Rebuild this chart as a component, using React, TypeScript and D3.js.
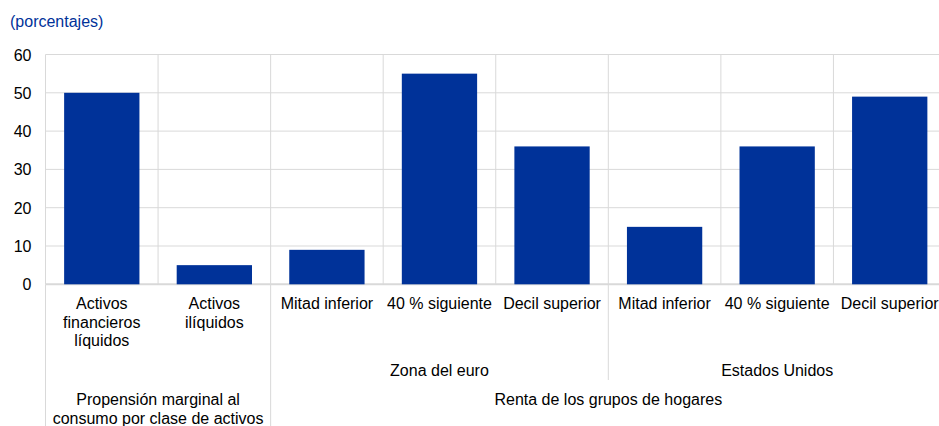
import React from "react";
import * as d3 from "d3";

const categories = [
  ["Activos", "financieros", "líquidos"],
  ["Activos", "ilíquidos"],
  ["Mitad inferior"],
  ["40 % siguiente"],
  ["Decil superior"],
  ["Mitad inferior"],
  ["40 % siguiente"],
  ["Decil superior"],
];
const values = [50, 5, 9, 55, 36, 15, 36, 49];
const yTicks = [0, 10, 20, 30, 40, 50, 60];
const regionGroups = [
  { label: "Zona del euro", start: 2, end: 4 },
  { label: "Estados Unidos", start: 5, end: 7 },
];
const topGroups = [
  { lines: ["Propensión marginal al", "consumo por clase de activos"], start: 0, end: 1 },
  { lines: ["Renta de los grupos de hogares"], start: 2, end: 7 },
];

const W = 939;
const H = 426;
const left = 45.5;
const right = 946;
const yZero = 284.3;
const yTop = 54.5;
const FONT = "'Liberation Sans', Arial, sans-serif";
const BLUE = "#003299";
const GRID = "#d9d9d9";

export default function App() {
  const idx = categories.map((_, i) => String(i));
  const x = d3.scaleBand<string>().domain(idx).range([left, right]).padding(0);
  const bw = x.bandwidth();
  const y = d3.scaleLinear().domain([0, 60]).range([yZero, yTop]);
  const barW = bw * 0.669;
  const edge = (i: number) => left + i * bw;

  return (
    <svg
      width={W}
      height={H}
      style={{ position: "absolute", left: 0, top: 0, fontFamily: FONT }}
    >
      <rect width={W} height={H} fill="#fff" />
      <text x={10} y={27} fill={BLUE} fontSize={16}>(porcentajes)</text>

      {yTicks.map((t) => (
        <line key={"h" + t} x1={left} x2={right} y1={y(t)} y2={y(t)} stroke={GRID} strokeWidth={t === 0 ? 2 : 1} />
      ))}
      {d3.range(0, categories.length + 1).map((i) => (
        <line key={"v" + i} x1={edge(i)} x2={edge(i)} y1={yTop} y2={yZero} stroke={GRID} strokeWidth={1} />
      ))}
      {yTicks.map((t) => (
        <text key={"t" + t} x={31.5} y={y(t) + 6} textAnchor="end" fontSize={16} fill="#000">{t}</text>
      ))}

      {values.map((v, i) => (
        <rect
          key={"b" + i}
          x={(x(String(i)) as number) + (bw - barW) / 2}
          y={y(v)}
          width={barW}
          height={yZero - y(v)}
          fill={BLUE}
        />
      ))}

      {categories.map((lines, i) => (
        <text key={"c" + i} textAnchor="middle" fontSize={16} fill="#000">
          {lines.map((l, j) => (
            <tspan key={j} x={(x(String(i)) as number) + bw / 2} y={309.3 + j * 18.4}>{l}</tspan>
          ))}
        </text>
      ))}

      <line x1={edge(0)} x2={edge(0)} y1={yZero} y2={H} stroke={GRID} strokeWidth={1} />
      <line x1={edge(2)} x2={edge(2)} y1={yZero} y2={H} stroke={GRID} strokeWidth={1} />
      <line x1={edge(5)} x2={edge(5)} y1={yZero} y2={380} stroke={GRID} strokeWidth={1} />

      {regionGroups.map((g) => (
        <text key={g.label} x={(edge(g.start) + edge(g.end + 1)) / 2} y={376} textAnchor="middle" fontSize={16} fill="#000">{g.label}</text>
      ))}
      {topGroups.map((g, k) => (
        <text key={"g" + k} textAnchor="middle" fontSize={16} fill="#000">
          {g.lines.map((l, j) => (
            <tspan key={j} x={(edge(g.start) + edge(g.end + 1)) / 2} y={405.3 + j * 18.4}>{l}</tspan>
          ))}
        </text>
      ))}
    </svg>
  );
}
